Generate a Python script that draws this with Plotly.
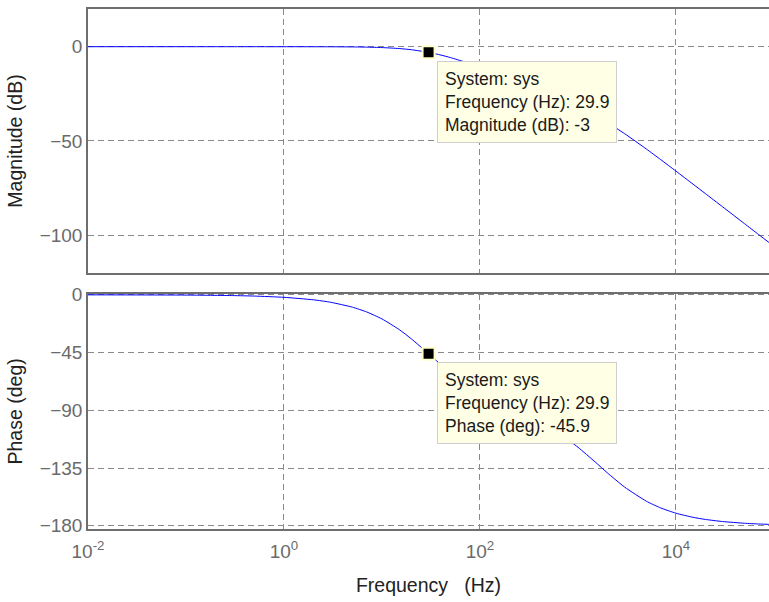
import plotly.graph_objects as go
from plotly.subplots import make_subplots

# Frequencies (Hz)
freq_hz = [0.01, 0.1, 0.3, 0.5, 1, 2, 3, 5, 7, 10, 15, 20, 29.9, 40, 50, 70, 100, 150, 200,
           300, 500, 700, 1000, 1500, 2000, 3000, 5000, 7000, 10000, 15000, 20000, 30000,
           50000, 70000, 100000]
# Magnitude (dB)
magnitude_db = [0.0, 0.0, 0.0, 0.0, -0.01, -0.02, -0.04, -0.12, -0.23, -0.46, -0.97, -1.6, -3.0,
                -4.44, -5.77, -8.1, -10.85, -14.18, -16.63, -20.18, -24.81, -28.05, -31.75,
                -36.48, -40.25, -46.14, -54.29, -59.9, -65.97, -72.95, -77.92, -84.95, -93.82,
                -99.66, -105.85]
# Phase (deg)
phase_deg = [-0.02, -0.19, -0.58, -0.97, -1.94, -3.88, -5.81, -9.63, -13.37, -18.77, -27.08,
             -34.36, -45.9, -54.48, -60.72, -69.16, -76.67, -83.73, -88.18, -94.3, -102.96,
             -109.93, -118.75, -130.27, -138.78, -149.89, -160.88, -166.1, -170.18, -173.42,
             -175.05, -176.7, -178.02, -178.59, -179.01]

x_tickvals = [0.01, 1, 100, 10000]
x_ticktext = ["10<sup>-2</sup>", "10<sup>0</sup>", "10<sup>2</sup>", "10<sup>4</sup>"]
mag_ticks = [0, -50, -100]
phase_ticks = [0, -45, -90, -135, -180]

tip_freq = 29.9
tip_mag = -3.0
tip_phase = -45.9

fig = make_subplots(rows=2, cols=1, shared_xaxes=False, vertical_spacing=0.0)

fig.add_trace(go.Scatter(x=freq_hz, y=magnitude_db, mode="lines",
                         line=dict(color="#0000ff", width=1, shape="spline", smoothing=0.5),
                         hoverinfo="skip", showlegend=False), row=1, col=1)
fig.add_trace(go.Scatter(x=freq_hz, y=phase_deg, mode="lines",
                         line=dict(color="#0000ff", width=1, shape="spline", smoothing=0.5),
                         hoverinfo="skip", showlegend=False), row=2, col=1)

for r, yv in ((1, tip_mag), (2, tip_phase)):
    fig.add_trace(go.Scatter(x=[tip_freq], y=[yv], mode="markers",
                             marker=dict(symbol="square", size=12, color="black",
                                         line=dict(color="#ffffcc", width=2)),
                             hoverinfo="skip", showlegend=False), row=r, col=1)

font = "Liberation Sans, Arial, sans-serif"
grid = dict(showgrid=True, gridcolor="#8a8a8a", gridwidth=1, griddash="6px,4px",
            showline=True, linecolor="#6e6e6e", linewidth=1.5, zeroline=False,
            ticks="", tickfont=dict(family=font, size=19, color="#6a6a6a"))
title_font = dict(family=font, size=19.5, color="#222222")

fig.update_xaxes(type="log", range=[-2, 4.95], tickvals=x_tickvals, ticktext=x_ticktext,
                 mirror=True, **grid)
fig.update_xaxes(showticklabels=False, row=1, col=1)
fig.update_xaxes(ticklabelstandoff=4, row=2, col=1,
                 title=dict(text="Frequency\u00a0 \u00a0(Hz)", font=title_font, standoff=18))
fig.update_yaxes(**grid)
fig.update_yaxes(range=[-120, 20], tickvals=mag_ticks, row=1, col=1,
                 title=dict(text="Magnitude (dB)", font=title_font, standoff=12))
fig.update_yaxes(range=[-182.5, 0.8], tickvals=phase_ticks, row=2, col=1,
                 title=dict(text="Phase (deg)", font=title_font, standoff=12))

fig.update_layout(
    width=769, height=602,
    margin=dict(l=88, r=0, t=5, b=73),
    plot_bgcolor="white", paper_bgcolor="white",
    yaxis=dict(domain=[0.4924, 1.0]),
    yaxis2=dict(domain=[0.0, 0.4523]),
)

tip_style = dict(xref="paper", yref="paper", showarrow=False, align="left",
                 xanchor="left", yanchor="top", bgcolor="#ffffe6", bordercolor="#cfcfcf",
                 borderwidth=1, borderpad=7, font=dict(family=font, size=17.5, color="#1a1a1a"))

def px_to_paper(xp, yp):
    return (xp - 88) / (769 - 88), (529 - yp) / 524

x0, y0 = px_to_paper(437, 57)
fig.add_annotation(x=x0, y=y0,
                   text=f"System: sys<br>Frequency (Hz): {tip_freq}<br>Magnitude (dB): {tip_mag:g}",
                   **tip_style)
x1, y1 = px_to_paper(437, 361)
fig.add_annotation(x=x1, y=y1,
                   text=f"System: sys<br>Frequency (Hz): {tip_freq}<br>Phase (deg): {tip_phase}",
                   **tip_style)

fig.write_html("out.html")
